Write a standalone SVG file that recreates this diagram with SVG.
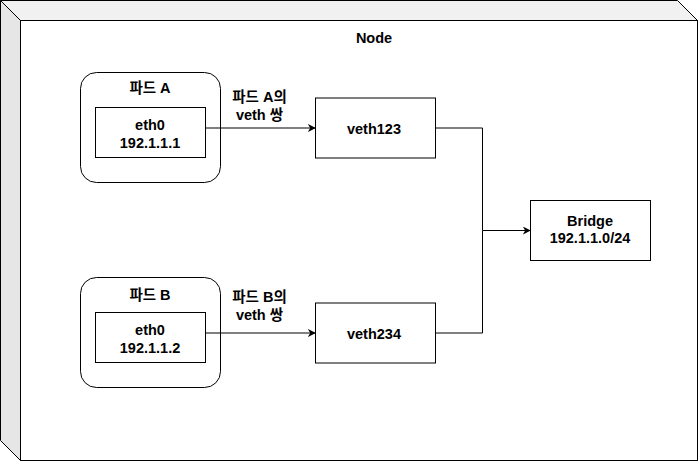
<svg xmlns="http://www.w3.org/2000/svg" width="698" height="461" viewBox="0 0 698 461">
<defs>
<style>
.b{fill:#fff;stroke:#000;stroke-width:1}
.t{font-family:"Liberation Sans","Noto Sans CJK KR",Arial,sans-serif;font-size:14.5px;font-weight:bold;fill:#000;text-anchor:middle}
.e{fill:none;stroke:#000;stroke-width:1}
</style>
<marker id="ar" viewBox="0 0 10 10" refX="9" refY="5" markerWidth="8" markerHeight="8" markerUnits="userSpaceOnUse" orient="auto">
<path d="M0,0 L10,5 L0,10 L3,5 Z" fill="#000"/>
</marker>
</defs>
<rect width="698" height="461" fill="#fff"/>
<g id="node">
<polygon points="0.5,0.5 677.5,0.5 697.5,20.5 20.5,20.5" fill="#f1f1f1" stroke="#000"/>
<polygon points="0.5,0.5 20.5,20.5 20.5,460.5 0.5,440.5" fill="#e6e6e6" stroke="#000"/>
<rect x="20.5" y="20.5" width="677" height="440" class="b"/>
<text x="374" y="42.5" class="t">Node</text>
</g>
<g id="podA">
<rect x="80.5" y="72.5" width="140" height="110" rx="16" class="b"/>
<text x="150" y="92.5" class="t">파드 A</text>
</g>
<g id="eth0A">
<rect x="95.5" y="107.5" width="110" height="50" class="b"/>
<text x="150" y="130" class="t">eth0</text>
<text x="150" y="147.5" class="t">192.1.1.1</text>
</g>
<g id="podB">
<rect x="80.5" y="277.5" width="140" height="110" rx="16" class="b"/>
<text x="150" y="300" class="t">파드 B</text>
</g>
<g id="eth0B">
<rect x="95.5" y="312.5" width="110" height="50" class="b"/>
<text x="150" y="335" class="t">eth0</text>
<text x="150" y="352.5" class="t">192.1.1.2</text>
</g>
<g id="veth123">
<rect x="315.5" y="98" width="120" height="60" class="b"/>
<text x="374" y="134" class="t">veth123</text>
</g>
<g id="veth234">
<rect x="315.5" y="303" width="120" height="60" class="b"/>
<text x="374" y="339" class="t">veth234</text>
</g>
<g id="bridge">
<rect x="530.5" y="200.5" width="120" height="60" class="b"/>
<text x="590" y="225.5" class="t">Bridge</text>
<text x="590" y="243" class="t">192.1.1.0/24</text>
</g>
<g id="connectors">
<path d="M205.5,128 L315,128" class="e" marker-end="url(#ar)"/>
<path d="M205.5,333 L315,333" class="e" marker-end="url(#ar)"/>
<path d="M435.5,128 L482.5,128 L482.5,230.5 L530,230.5" class="e" marker-end="url(#ar)"/>
<path d="M435.5,333 L482.5,333 L482.5,230.5" class="e"/>
<text x="259.5" y="102" class="t">파드 A의</text>
<text x="259.5" y="119.5" class="t">veth 쌍</text>
<text x="259.5" y="302" class="t">파드 B의</text>
<text x="259.5" y="319.5" class="t">veth 쌍</text>
</g>
</svg>
